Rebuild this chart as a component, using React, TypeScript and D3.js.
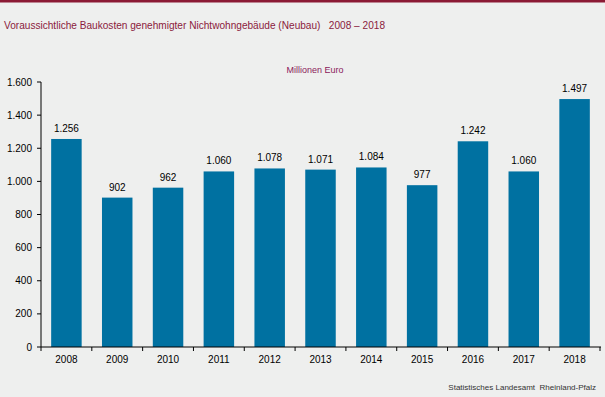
import React from "react";
import * as d3 from "d3";

const years = ["2008","2009","2010","2011","2012","2013","2014","2015","2016","2017","2018"];
const values = [1256, 902, 962, 1060, 1078, 1071, 1084, 977, 1242, 1060, 1497];
const yTicks = [0, 200, 400, 600, 800, 1000, 1200, 1400, 1600];

const W = 605, H = 397;
const fmt = (v: number) => v.toLocaleString("de-DE");

export default function App() {
  const x = d3.scaleBand<string>().domain(years).range([41, 600]).paddingInner(0.4).paddingOuter(0.2);
  const xt = d3.scaleBand<string>().domain(years).range([41, 600]);
  const y = d3.scaleLinear().domain([0, 1600]).range([347, 82]);
  const font = "'Liberation Sans', Arial, sans-serif";
  return (
    <svg width={W} height={H} style={{ position: "absolute", left: 0, top: 0 }} fontFamily={font}>
      <rect x={0} y={0} width={W} height={H} fill="#eeefee" />
      <rect x={0} y={0} width={W} height={2.5} fill="#8b1a34" />
      <text x={4} y={28.5} fontSize={11.5} fill="#8b1a3c" textLength={381} lengthAdjust="spacingAndGlyphs" style={{ whiteSpace: "pre" }}>{"Voraussichtliche Baukosten genehmigter Nichtwohngebäude (Neubau)   2008 – 2018"}</text>
      <text x={315} y={73} fontSize={9} fill="#8b1a5c" textAnchor="middle">Millionen Euro</text>
      {years.map((yr, i) => (
        <g key={yr}>
          <rect x={x(yr)!} y={y(values[i])} width={x.bandwidth()} height={347 - y(values[i])} fill="#0071a1" />
          <text x={x(yr)! + x.bandwidth() / 2} y={y(values[i]) - 7} fontSize={10} textAnchor="middle" fill="#000">{fmt(values[i])}</text>
          <text x={xt(yr)! + xt.bandwidth() / 2} y={363} fontSize={10} textAnchor="middle" fill="#000">{yr}</text>
        </g>
      ))}
      {yTicks.map(t => (
        <g key={t}>
          <line x1={37} x2={41} y1={y(t)} y2={y(t)} stroke="#000" />
          <text x={32} y={y(t) + 3.5} fontSize={10} textAnchor="end" fill="#000">{fmt(t)}</text>
        </g>
      ))}
      {years.concat(["end"]).map((yr, i) => {
        const px = 41 + i * xt.bandwidth();
        return <line key={yr} x1={px} x2={px} y1={347} y2={351} stroke="#000" />;
      })}
      <line x1={41} x2={41} y1={82} y2={347} stroke="#000" />
      <line x1={41} x2={601} y1={347} y2={347} stroke="#000" />
      <text x={596} y={390} fontSize={8} textAnchor="end" fill="#333" style={{ whiteSpace: "pre" }}>{"Statistisches Landesamt  Rheinland-Pfalz"}</text>
    </svg>
  );
}
